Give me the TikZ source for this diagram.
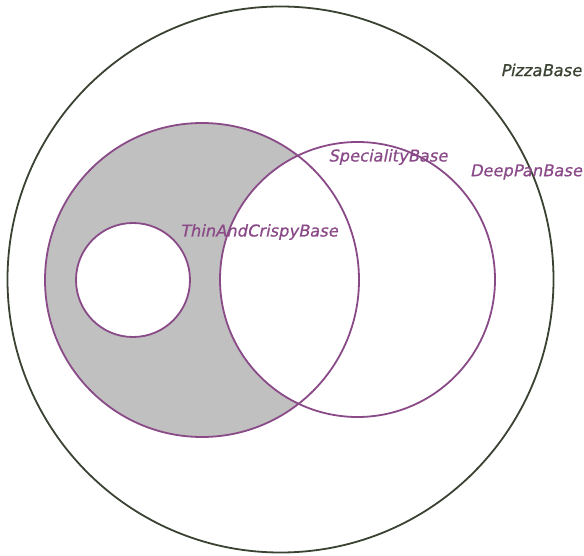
\documentclass[tikz,border=0pt]{standalone}
\usepackage{fontspec}
\newfontfamily\labelfont{DejaVu Sans}[FakeSlant=0.2,FakeBold=0.8]
\definecolor{pizzaline}{HTML}{3A4232}
\definecolor{setline}{HTML}{8A4A88}
\definecolor{thinfill}{HTML}{C0C0C0}

\begin{document}
\begin{tikzpicture}[x=1pt,y=-1pt]
                \tikzstyle{every node}+=[inner sep=0pt]
                \tikzstyle{setlabel}=[font=\labelfont\fontsize{16.3}{19}\selectfont, text=setline]
                \useasboundingbox (0,0) rectangle (584,556);
                % regions
                \fill [thinfill] (202,280) circle (157);
                \fill [white] (133,280) circle (57);
                \fill [white] (357.5,279.5) circle (137.5);
                % outlines
                \draw [pizzaline, line width=1.8pt] (280.5,279.5) circle (273);
                \draw [setline, line width=1.8pt] (202,280) circle (157);
                \draw [setline, line width=1.8pt] (133,280) circle (57);
                \draw [setline, line width=1.8pt] (357.5,279.5) circle (137.5);
                % labels
                \node (pizza) [setlabel, text=pizzaline] at (541,70) {PizzaBase};
                \node (speciality) [setlabel] at (388,157) {SpecialityBase};
                \node (deeppan) [setlabel] at (526,172) {DeepPanBase};
                \node (thincrispy) [setlabel] at (259,232) {ThinAndCrispyBase};
              \end{tikzpicture}
\end{document}
